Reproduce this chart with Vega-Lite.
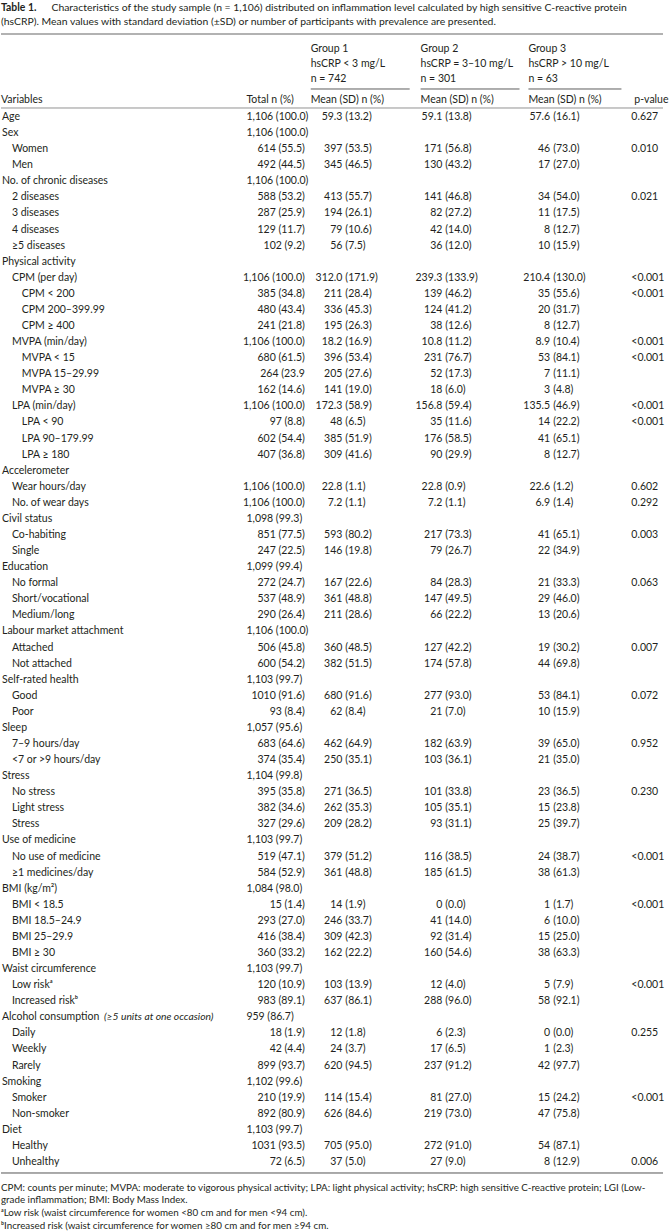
{
"$schema": "https://vega.github.io/schema/vega-lite/v6.json",
"width": 669, "height": 1232,
"autosize": {"type": "fit", "contains": "padding"},
"padding": 0,
"background": "white",
"config": {"view": {"stroke": null}, "text": {"font": "Lato", "fontSize": 10.5, "fill": "#231f20", "baseline": "middle", "align": "left"}},
"data": {"values": [
{"i":1,"level":0,"label":"Age","total":"1,106 (100.0)","g1":"59.3","g1p":"(13.2)","g2":"59.1","g2p":"(13.8)","g3":"57.6","g3p":"(16.1)","p":"0.627"},
{"i":2,"level":0,"label":"Sex","total":"1,106 (100.0)"},
{"i":3,"level":1,"label":"Women","total":"614 (55.5)","g1":"397","g1p":"(53.5)","g2":"171","g2p":"(56.8)","g3":"46","g3p":"(73.0)","p":"0.010"},
{"i":4,"level":1,"label":"Men","total":"492 (44.5)","g1":"345","g1p":"(46.5)","g2":"130","g2p":"(43.2)","g3":"17","g3p":"(27.0)"},
{"i":5,"level":0,"label":"No. of chronic diseases","total":"1,106 (100.0)"},
{"i":6,"level":1,"label":"2 diseases","total":"588 (53.2)","g1":"413","g1p":"(55.7)","g2":"141","g2p":"(46.8)","g3":"34","g3p":"(54.0)","p":"0.021"},
{"i":7,"level":1,"label":"3 diseases","total":"287 (25.9)","g1":"194","g1p":"(26.1)","g2":"82","g2p":"(27.2)","g3":"11","g3p":"(17.5)"},
{"i":8,"level":1,"label":"4 diseases","total":"129 (11.7)","g1":"79","g1p":"(10.6)","g2":"42","g2p":"(14.0)","g3":"8","g3p":"(12.7)"},
{"i":9,"level":1,"label":"≥5 diseases","total":"102 (9.2)","g1":"56","g1p":"(7.5)","g2":"36","g2p":"(12.0)","g3":"10","g3p":"(15.9)"},
{"i":10,"level":0,"label":"Physical activity"},
{"i":11,"level":1,"label":"CPM (per day)","total":"1,106 (100.0)","g1":"312.0","g1p":"(171.9)","g2":"239.3","g2p":"(133.9)","g3":"210.4","g3p":"(130.0)","p":"<0.001"},
{"i":12,"level":2,"label":"CPM < 200","total":"385 (34.8)","g1":"211","g1p":"(28.4)","g2":"139","g2p":"(46.2)","g3":"35","g3p":"(55.6)","p":"<0.001"},
{"i":13,"level":2,"label":"CPM 200–399.99","total":"480 (43.4)","g1":"336","g1p":"(45.3)","g2":"124","g2p":"(41.2)","g3":"20","g3p":"(31.7)"},
{"i":14,"level":2,"label":"CPM ≥ 400","total":"241 (21.8)","g1":"195","g1p":"(26.3)","g2":"38","g2p":"(12.6)","g3":"8","g3p":"(12.7)"},
{"i":15,"level":1,"label":"MVPA (min/day)","total":"1,106 (100.0)","g1":"18.2","g1p":"(16.9)","g2":"10.8","g2p":"(11.2)","g3":"8.9","g3p":"(10.4)","p":"<0.001"},
{"i":16,"level":2,"label":"MVPA < 15","total":"680 (61.5)","g1":"396","g1p":"(53.4)","g2":"231","g2p":"(76.7)","g3":"53","g3p":"(84.1)","p":"<0.001"},
{"i":17,"level":2,"label":"MVPA 15–29.99","total":"264 (23.9","g1":"205","g1p":"(27.6)","g2":"52","g2p":"(17.3)","g3":"7","g3p":"(11.1)"},
{"i":18,"level":2,"label":"MVPA ≥ 30","total":"162 (14.6)","g1":"141","g1p":"(19.0)","g2":"18","g2p":"(6.0)","g3":"3","g3p":"(4.8)"},
{"i":19,"level":1,"label":"LPA (min/day)","total":"1,106 (100.0)","g1":"172.3","g1p":"(58.9)","g2":"156.8","g2p":"(59.4)","g3":"135.5","g3p":"(46.9)","p":"<0.001"},
{"i":20,"level":2,"label":"LPA < 90","total":"97 (8.8)","g1":"48","g1p":"(6.5)","g2":"35","g2p":"(11.6)","g3":"14","g3p":"(22.2)","p":"<0.001"},
{"i":21,"level":2,"label":"LPA 90–179.99","total":"602 (54.4)","g1":"385","g1p":"(51.9)","g2":"176","g2p":"(58.5)","g3":"41","g3p":"(65.1)"},
{"i":22,"level":2,"label":"LPA ≥ 180","total":"407 (36.8)","g1":"309","g1p":"(41.6)","g2":"90","g2p":"(29.9)","g3":"8","g3p":"(12.7)"},
{"i":23,"level":0,"label":"Accelerometer"},
{"i":24,"level":1,"label":"Wear hours/day","total":"1,106 (100.0)","g1":"22.8","g1p":"(1.1)","g2":"22.8","g2p":"(0.9)","g3":"22.6","g3p":"(1.2)","p":"0.602"},
{"i":25,"level":1,"label":"No. of wear days","total":"1,106 (100.0)","g1":"7.2","g1p":"(1.1)","g2":"7.2","g2p":"(1.1)","g3":"6.9","g3p":"(1.4)","p":"0.292"},
{"i":26,"level":0,"label":"Civil status","total":"1,098 (99.3)"},
{"i":27,"level":1,"label":"Co-habiting","total":"851 (77.5)","g1":"593","g1p":"(80.2)","g2":"217","g2p":"(73.3)","g3":"41","g3p":"(65.1)","p":"0.003"},
{"i":28,"level":1,"label":"Single","total":"247 (22.5)","g1":"146","g1p":"(19.8)","g2":"79","g2p":"(26.7)","g3":"22","g3p":"(34.9)"},
{"i":29,"level":0,"label":"Education","total":"1,099 (99.4)"},
{"i":30,"level":1,"label":"No formal","total":"272 (24.7)","g1":"167","g1p":"(22.6)","g2":"84","g2p":"(28.3)","g3":"21","g3p":"(33.3)","p":"0.063"},
{"i":31,"level":1,"label":"Short/vocational","total":"537 (48.9)","g1":"361","g1p":"(48.8)","g2":"147","g2p":"(49.5)","g3":"29","g3p":"(46.0)"},
{"i":32,"level":1,"label":"Medium/long","total":"290 (26.4)","g1":"211","g1p":"(28.6)","g2":"66","g2p":"(22.2)","g3":"13","g3p":"(20.6)"},
{"i":33,"level":0,"label":"Labour market attachment","total":"1,106 (100.0)"},
{"i":34,"level":1,"label":"Attached","total":"506 (45.8)","g1":"360","g1p":"(48.5)","g2":"127","g2p":"(42.2)","g3":"19","g3p":"(30.2)","p":"0.007"},
{"i":35,"level":1,"label":"Not attached","total":"600 (54.2)","g1":"382","g1p":"(51.5)","g2":"174","g2p":"(57.8)","g3":"44","g3p":"(69.8)"},
{"i":36,"level":0,"label":"Self-rated health","total":"1,103 (99.7)"},
{"i":37,"level":1,"label":"Good","total":"1010 (91.6)","g1":"680","g1p":"(91.6)","g2":"277","g2p":"(93.0)","g3":"53","g3p":"(84.1)","p":"0.072"},
{"i":38,"level":1,"label":"Poor","total":"93 (8.4)","g1":"62","g1p":"(8.4)","g2":"21","g2p":"(7.0)","g3":"10","g3p":"(15.9)"},
{"i":39,"level":0,"label":"Sleep","total":"1,057 (95.6)"},
{"i":40,"level":1,"label":"7–9 hours/day","total":"683 (64.6)","g1":"462","g1p":"(64.9)","g2":"182","g2p":"(63.9)","g3":"39","g3p":"(65.0)","p":"0.952"},
{"i":41,"level":1,"label":"<7 or >9 hours/day","total":"374 (35.4)","g1":"250","g1p":"(35.1)","g2":"103","g2p":"(36.1)","g3":"21","g3p":"(35.0)"},
{"i":42,"level":0,"label":"Stress","total":"1,104 (99.8)"},
{"i":43,"level":1,"label":"No stress","total":"395 (35.8)","g1":"271","g1p":"(36.5)","g2":"101","g2p":"(33.8)","g3":"23","g3p":"(36.5)","p":"0.230"},
{"i":44,"level":1,"label":"Light stress","total":"382 (34.6)","g1":"262","g1p":"(35.3)","g2":"105","g2p":"(35.1)","g3":"15","g3p":"(23.8)"},
{"i":45,"level":1,"label":"Stress","total":"327 (29.6)","g1":"209","g1p":"(28.2)","g2":"93","g2p":"(31.1)","g3":"25","g3p":"(39.7)"},
{"i":46,"level":0,"label":"Use of medicine","total":"1,103 (99.7)"},
{"i":47,"level":1,"label":"No use of medicine","total":"519 (47.1)","g1":"379","g1p":"(51.2)","g2":"116","g2p":"(38.5)","g3":"24","g3p":"(38.7)","p":"<0.001"},
{"i":48,"level":1,"label":"≥1 medicines/day","total":"584 (52.9)","g1":"361","g1p":"(48.8)","g2":"185","g2p":"(61.5)","g3":"38","g3p":"(61.3)"},
{"i":49,"level":0,"label":"BMI (kg/m²)","total":"1,084 (98.0)"},
{"i":50,"level":1,"label":"BMI < 18.5","total":"15 (1.4)","g1":"14","g1p":"(1.9)","g2":"0","g2p":"(0.0)","g3":"1","g3p":"(1.7)","p":"<0.001"},
{"i":51,"level":1,"label":"BMI 18.5–24.9","total":"293 (27.0)","g1":"246","g1p":"(33.7)","g2":"41","g2p":"(14.0)","g3":"6","g3p":"(10.0)"},
{"i":52,"level":1,"label":"BMI 25–29.9","total":"416 (38.4)","g1":"309","g1p":"(42.3)","g2":"92","g2p":"(31.4)","g3":"15","g3p":"(25.0)"},
{"i":53,"level":1,"label":"BMI ≥ 30","total":"360 (33.2)","g1":"162","g1p":"(22.2)","g2":"160","g2p":"(54.6)","g3":"38","g3p":"(63.3)"},
{"i":54,"level":0,"label":"Waist circumference","total":"1,103 (99.7)"},
{"i":55,"level":1,"label":"Low riskᵃ","total":"120 (10.9)","g1":"103","g1p":"(13.9)","g2":"12","g2p":"(4.0)","g3":"5","g3p":"(7.9)","p":"<0.001"},
{"i":56,"level":1,"label":"Increased riskᵇ","total":"983 (89.1)","g1":"637","g1p":"(86.1)","g2":"288","g2p":"(96.0)","g3":"58","g3p":"(92.1)"},
{"i":57,"level":0,"label":"Alcohol consumption","note":"(≥5 units at one occasion)","total":"959 (86.7)"},
{"i":58,"level":1,"label":"Daily","total":"18 (1.9)","g1":"12","g1p":"(1.8)","g2":"6","g2p":"(2.3)","g3":"0","g3p":"(0.0)","p":"0.255"},
{"i":59,"level":1,"label":"Weekly","total":"42 (4.4)","g1":"24","g1p":"(3.7)","g2":"17","g2p":"(6.5)","g3":"1","g3p":"(2.3)"},
{"i":60,"level":1,"label":"Rarely","total":"899 (93.7)","g1":"620","g1p":"(94.5)","g2":"237","g2p":"(91.2)","g3":"42","g3p":"(97.7)"},
{"i":61,"level":0,"label":"Smoking","total":"1,102 (99.6)"},
{"i":62,"level":1,"label":"Smoker","total":"210 (19.9)","g1":"114","g1p":"(15.4)","g2":"81","g2p":"(27.0)","g3":"15","g3p":"(24.2)","p":"<0.001"},
{"i":63,"level":1,"label":"Non-smoker","total":"892 (80.9)","g1":"626","g1p":"(84.6)","g2":"219","g2p":"(73.0)","g3":"47","g3p":"(75.8)"},
{"i":64,"level":0,"label":"Diet","total":"1,103 (99.7)"},
{"i":65,"level":1,"label":"Healthy","total":"1031 (93.5)","g1":"705","g1p":"(95.0)","g2":"272","g2p":"(91.0)","g3":"54","g3p":"(87.1)"},
{"i":66,"level":1,"label":"Unhealthy","total":"72 (6.5)","g1":"37","g1p":"(5.0)","g2":"27","g2p":"(9.0)","g3":"8","g3p":"(12.9)","p":"0.006"}
]},
"layer": [
{"transform":[{"filter":"datum.level == 0"}],"mark":{"type":"text"},"encoding":{"x":{"datum":1,"type":"quantitative","scale":{"domain":[0,669],"nice":false,"zero":false},"axis":null},"y":{"field":"i","type":"quantitative","scale":{"domain":[-6.2775,70.354],"reverse":true,"nice":false,"zero":false},"axis":null},"text":{"field":"label"}}},
{"transform":[{"filter":"datum.level == 1"}],"mark":{"type":"text"},"encoding":{"x":{"datum":11,"type":"quantitative"},"y":{"field":"i","type":"quantitative"},"text":{"field":"label"}}},
{"transform":[{"filter":"datum.level == 2"}],"mark":{"type":"text"},"encoding":{"x":{"datum":21,"type":"quantitative"},"y":{"field":"i","type":"quantitative"},"text":{"field":"label"}}},
{"transform":[{"filter":"datum.note"}],"mark":{"type":"text","fontStyle":"italic","fontSize":10.3},"encoding":{"x":{"datum":104,"type":"quantitative"},"y":{"field":"i","type":"quantitative"},"text":{"field":"note"}}},
{"transform":[{"filter":"datum.level == 0 && datum.total"}],"mark":{"type":"text"},"encoding":{"x":{"datum":248,"type":"quantitative"},"y":{"field":"i","type":"quantitative"},"text":{"field":"total"}}},
{"transform":[{"filter":"datum.level > 0 && datum.total"}],"mark":{"type":"text","align":"right"},"encoding":{"x":{"datum":307,"type":"quantitative"},"y":{"field":"i","type":"quantitative"},"text":{"field":"total"}}},
{"transform":[{"filter":"datum.g1"}],"mark":{"type":"text","align":"right"},"encoding":{"x":{"datum":345,"type":"quantitative"},"y":{"field":"i","type":"quantitative"},"text":{"field":"g1"}}},
{"transform":[{"filter":"datum.g1p"}],"mark":{"type":"text"},"encoding":{"x":{"datum":348,"type":"quantitative"},"y":{"field":"i","type":"quantitative"},"text":{"field":"g1p"}}},
{"transform":[{"filter":"datum.g2"}],"mark":{"type":"text","align":"right"},"encoding":{"x":{"datum":446,"type":"quantitative"},"y":{"field":"i","type":"quantitative"},"text":{"field":"g2"}}},
{"transform":[{"filter":"datum.g2p"}],"mark":{"type":"text"},"encoding":{"x":{"datum":449,"type":"quantitative"},"y":{"field":"i","type":"quantitative"},"text":{"field":"g2p"}}},
{"transform":[{"filter":"datum.g3"}],"mark":{"type":"text","align":"right"},"encoding":{"x":{"datum":555,"type":"quantitative"},"y":{"field":"i","type":"quantitative"},"text":{"field":"g3"}}},
{"transform":[{"filter":"datum.g3p"}],"mark":{"type":"text"},"encoding":{"x":{"datum":558,"type":"quantitative"},"y":{"field":"i","type":"quantitative"},"text":{"field":"g3p"}}},
{"transform":[{"filter":"datum.p"}],"mark":{"type":"text"},"encoding":{"x":{"datum":637,"type":"quantitative"},"y":{"field":"i","type":"quantitative"},"text":{"field":"p"}}},
{"data":{"values":[{}]},"mark":{"type":"text","fontWeight":"bold","fontSize":10.4,"text":"Table 1."},"encoding":{"x":{"datum":0,"type":"quantitative"},"y":{"datum":-5.749,"type":"quantitative"}}},
{"data":{"values":[{}]},"mark":{"type":"text","fontSize":10.4,"text":"Characteristics of the study sample (n = 1,106) distributed on inflammation level calculated by high sensitive C-reactive protein"},"encoding":{"x":{"datum":51,"type":"quantitative"},"y":{"datum":-5.749,"type":"quantitative"}}},
{"data":{"values":[{}]},"mark":{"type":"text","fontSize":10.4,"text":"(hsCRP). Mean values with standard deviation (±SD) or number of participants with prevalence are presented."},"encoding":{"x":{"datum":0,"type":"quantitative"},"y":{"datum":-4.878,"type":"quantitative"}}},
{"data":{"values":[{}]},"mark":{"type":"rule","stroke":"#666","strokeWidth":1.2},"encoding":{"x":{"datum":0,"type":"quantitative"},"x2":{"datum":669},"y":{"datum":-4.163,"type":"quantitative"}}},
{"data":{"values":[{}]},"mark":{"type":"text","baseline":"top","lineHeight":15,"text":["Group 1","hsCRP < 3 mg/L","n = 742"]},"encoding":{"x":{"datum":313,"type":"quantitative"},"y":{"datum":-3.516,"type":"quantitative"}}},
{"data":{"values":[{}]},"mark":{"type":"text","baseline":"top","lineHeight":15,"text":["Group 2","hsCRP = 3–10 mg/L","n = 301"]},"encoding":{"x":{"datum":424,"type":"quantitative"},"y":{"datum":-3.516,"type":"quantitative"}}},
{"data":{"values":[{}]},"mark":{"type":"text","baseline":"top","lineHeight":15,"text":["Group 3","hsCRP > 10 mg/L","n = 63"]},"encoding":{"x":{"datum":533,"type":"quantitative"},"y":{"datum":-3.516,"type":"quantitative"}}},
{"data":{"values":[{}]},"mark":{"type":"rule","stroke":"#333","strokeWidth":0.8},"encoding":{"x":{"datum":313,"type":"quantitative"},"x2":{"datum":413},"y":{"datum":-0.742,"type":"quantitative"}}},
{"data":{"values":[{}]},"mark":{"type":"rule","stroke":"#333","strokeWidth":0.8},"encoding":{"x":{"datum":424,"type":"quantitative"},"x2":{"datum":524},"y":{"datum":-0.742,"type":"quantitative"}}},
{"data":{"values":[{}]},"mark":{"type":"rule","stroke":"#333","strokeWidth":0.8},"encoding":{"x":{"datum":533,"type":"quantitative"},"x2":{"datum":627},"y":{"datum":-0.742,"type":"quantitative"}}},
{"data":{"values":[{}]},"mark":{"type":"text","text":"Variables"},"encoding":{"x":{"datum":0,"type":"quantitative"},"y":{"datum":-0.058,"type":"quantitative"}}},
{"data":{"values":[{}]},"mark":{"type":"text","text":"Total n (%)"},"encoding":{"x":{"datum":248,"type":"quantitative"},"y":{"datum":-0.058,"type":"quantitative"}}},
{"data":{"values":[{}]},"mark":{"type":"text","text":"Mean (SD) n (%)"},"encoding":{"x":{"datum":313,"type":"quantitative"},"y":{"datum":-0.058,"type":"quantitative"}}},
{"data":{"values":[{}]},"mark":{"type":"text","text":"Mean (SD) n (%)"},"encoding":{"x":{"datum":424,"type":"quantitative"},"y":{"datum":-0.058,"type":"quantitative"}}},
{"data":{"values":[{}]},"mark":{"type":"text","text":"Mean (SD) n (%)"},"encoding":{"x":{"datum":533,"type":"quantitative"},"y":{"datum":-0.058,"type":"quantitative"}}},
{"data":{"values":[{}]},"mark":{"type":"text","text":"p-value"},"encoding":{"x":{"datum":640,"type":"quantitative"},"y":{"datum":-0.058,"type":"quantitative"}}},
{"data":{"values":[{}]},"mark":{"type":"rule","stroke":"#777","strokeWidth":0.8},"encoding":{"x":{"datum":0,"type":"quantitative"},"x2":{"datum":669},"y":{"datum":0.44,"type":"quantitative"}}},
{"data":{"values":[{}]},"mark":{"type":"rule","stroke":"#555","strokeWidth":1},"encoding":{"x":{"datum":0,"type":"quantitative"},"x2":{"datum":669},"y":{"datum":66.684,"type":"quantitative"}}},
{"data":{"values":[{}]},"mark":{"type":"text","baseline":"top","fontSize":9.8,"lineHeight":12.7,"text":["CPM: counts per minute; MVPA: moderate to vigorous physical activity; LPA: light physical activity; hsCRP: high sensitive C-reactive protein; LGI (Low-","grade inflammation; BMI: Body Mass Index.","ᵃLow risk (waist circumference for women <80 cm and for men <94 cm).","ᵇIncreased risk (waist circumference for women ≥80 cm and for men ≥94 cm."]},"encoding":{"x":{"datum":0,"type":"quantitative"},"y":{"datum":67.288,"type":"quantitative"}}}
]
}
